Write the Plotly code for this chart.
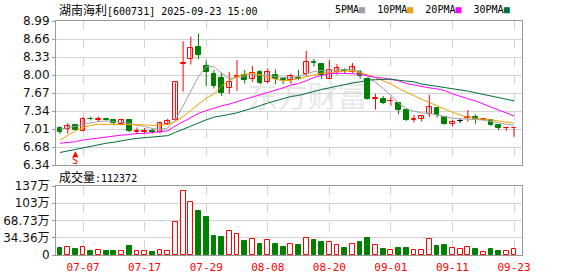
import numpy as np
import plotly.graph_objects as go

# ---------------- data ----------------
dates = ["07-02","07-03","07-04","07-07","07-08","07-09","07-10","07-11","07-14","07-15",
         "07-16","07-17","07-18","07-21","07-22","07-23","07-24","07-25","07-28","07-29",
         "07-30","07-31","08-01","08-04","08-05","08-06","08-07","08-08","08-11","08-12",
         "08-13","08-14","08-15","08-18","08-19","08-20","08-21","08-22","08-25","08-26",
         "08-27","08-28","08-29","09-01","09-02","09-03","09-04","09-05","09-08","09-09",
         "09-10","09-11","09-12","09-15","09-16","09-17","09-18","09-19","09-22","09-23"]

open_ = [7.03,7.00,7.07,6.97,7.19,7.17,7.18,7.16,7.09,7.17,6.95,6.95,6.96,6.94,7.09,7.17,8.19,8.29,8.51,8.17,
         8.02,7.95,7.75,7.96,8.00,7.93,8.06,7.87,8.00,7.92,7.90,7.94,8.01,8.24,8.20,7.92,8.06,8.08,8.06,8.06,
         7.93,7.56,7.55,7.51,7.48,7.36,7.17,7.19,7.28,7.38,7.23,7.09,7.15,7.20,7.22,7.17,7.17,7.08,7.02,7.02]
close = [6.94,7.06,6.98,7.19,7.18,7.18,7.17,7.11,7.17,6.97,6.96,6.96,6.95,7.11,7.15,7.86,8.22,8.49,8.37,8.05,
         7.79,7.66,7.86,7.98,7.90,8.03,7.84,8.05,7.92,7.91,7.97,7.93,8.23,8.21,8.00,8.09,8.12,8.07,8.14,7.97,
         7.55,7.57,7.49,7.52,7.35,7.17,7.18,7.25,7.41,7.26,7.09,7.14,7.15,7.22,7.18,7.18,7.08,7.03,7.03,7.03]
high = [7.05,7.11,7.09,7.22,7.23,7.23,7.19,7.19,7.19,7.18,7.03,7.02,7.01,7.14,7.19,7.86,8.62,8.70,8.76,8.26,
        8.09,8.04,8.05,8.27,8.09,8.16,8.09,8.12,8.10,7.95,8.02,8.09,8.44,8.29,8.21,8.27,8.20,8.12,8.22,8.09,
        7.95,7.65,7.61,7.59,7.49,7.38,7.26,7.26,7.63,7.40,7.24,7.17,7.19,7.35,7.27,7.20,7.18,7.08,7.04,7.04]
low = [6.91,6.92,6.97,6.96,7.16,7.13,7.16,7.07,7.07,6.94,6.92,6.92,6.92,6.92,7.07,7.16,7.69,8.19,8.29,7.79,
       7.75,7.61,7.65,7.70,7.84,7.87,7.83,7.84,7.83,7.83,7.84,7.90,7.98,8.15,7.92,7.92,8.00,8.02,8.03,7.92,
       7.54,7.36,7.46,7.43,7.27,7.15,7.12,7.14,7.23,7.21,7.08,7.05,7.11,7.14,7.10,7.16,7.06,6.98,6.97,6.86]

ma5 = [7.00,7.02,7.05,7.09,7.12,7.14,7.15,7.14,7.13,7.11,7.07,7.05,7.01,7.00,7.02,7.17,7.43,7.71,7.97,8.15,
       8.15,8.03,7.93,7.95,7.98,8.00,8.00,7.99,7.97,7.95,7.95,7.97,8.02,8.06,8.08,8.08,8.09,8.10,8.10,8.06,
       7.97,7.86,7.75,7.62,7.48,7.38,7.33,7.30,7.29,7.26,7.23,7.20,7.19,7.18,7.18,7.17,7.14,7.11,7.09,7.07]
ma10 = [6.80,6.89,6.97,7.03,7.07,7.09,7.09,7.09,7.09,7.09,7.08,7.08,7.07,7.07,7.09,7.14,7.23,7.35,7.46,7.57,
        7.65,7.79,7.89,7.97,8.01,8.03,8.00,7.95,7.92,7.89,7.90,7.93,7.97,8.00,8.03,8.04,8.06,8.07,8.07,8.04,
        8.00,7.95,7.89,7.83,7.75,7.68,7.61,7.55,7.49,7.43,7.36,7.31,7.26,7.22,7.20,7.19,7.17,7.15,7.13,7.11]
ma20 = [6.74,6.75,6.77,6.80,6.82,6.84,6.86,6.87,6.89,6.90,6.92,6.92,6.94,6.95,6.97,7.06,7.14,7.22,7.29,7.34,
        7.39,7.43,7.46,7.51,7.55,7.59,7.63,7.67,7.72,7.76,7.81,7.84,7.89,7.95,7.99,8.02,8.03,8.03,8.02,8.01,
        7.98,7.95,7.94,7.92,7.89,7.84,7.81,7.78,7.76,7.74,7.71,7.65,7.60,7.56,7.52,7.46,7.40,7.35,7.30,7.24]
ma30 = [6.57,6.60,6.63,6.66,6.68,6.71,6.74,6.76,6.79,6.81,6.83,6.84,6.86,6.87,6.88,6.94,7.00,7.06,7.12,7.17,
        7.22,7.24,7.27,7.30,7.34,7.39,7.43,7.48,7.52,7.56,7.60,7.62,7.66,7.70,7.73,7.76,7.79,7.83,7.85,7.87,
        7.90,7.91,7.92,7.92,7.90,7.89,7.87,7.83,7.81,7.78,7.76,7.74,7.72,7.70,7.67,7.64,7.61,7.59,7.56,7.52]

volume_wan = [14.7,16.0,12.7,16.0,8.7,10.0,7.3,8.7,8.0,18.7,8.0,8.0,6.7,10.0,8.7,66.0,128.0,106.0,86.7,76.7,
              38.7,36.7,48.0,42.0,28.7,32.0,22.7,30.0,22.7,16.0,22.7,20.7,34.0,30.7,25.3,25.3,20.7,14.7,22.7,26.7,
              34.7,20.7,12.7,10.0,14.7,14.7,10.0,10.0,32.0,18.7,20.7,14.0,12.0,16.0,12.7,6.7,12.7,8.7,8.7,11.2372]

price_ticks = ["6.34","6.68","7.01","7.34","7.67","8.00","8.33","8.66","8.99"]
vol_tick_vals = [0, 34.36, 68.73, 103.09, 137.45]
vol_tick_text = ["0", "34.36万", "68.73万", "103万", "137万"]
date_ticks = ["07-07","07-17","07-29","08-08","08-20","09-01","09-11","09-23"]
signal_dates = ["07-04"]
signal_text = ["S"]
title_name = "湖南海利"
title_rest = "[600731] 2025-09-23 15:00"
last_volume = "112372"

# ---------------- styles ----------------
RED = "#ff0000"
GREEN = "#008000"
BLACK = "#000000"
MA_COLORS = ["#a0a0a0", "#f0a000", "#ff00ff", "#006f35"]
GRID = "#d4d4d4"
BORDER = "#9a9a9a"
BODY_W = 0.62

n = len(dates)
x = np.arange(n)
o = np.array(open_); c = np.array(close); h = np.array(high); l = np.array(low)
up = c > o
down = c < o
flat = c == o

fig = go.Figure()

# wicks
for mask, col in ((up, RED), (down, GREEN), (flat, BLACK)):
    xs, ys = [], []
    for i in x[mask]:
        xs += [i, i, None]
        ys += [l[i], h[i], None]
    fig.add_trace(go.Scatter(x=xs, y=ys, mode="lines", line=dict(color=col, width=1),
                             hoverinfo="skip", showlegend=False, xaxis="x", yaxis="y"))

# bodies
body_base = np.minimum(o, c)
body_h = np.maximum(np.abs(c - o), 0.004)
for mask, fill, col in ((up, "#ffffff", RED), (down, GREEN, GREEN), (flat, BLACK, BLACK)):
    fig.add_trace(go.Bar(x=x[mask], y=body_h[mask], base=body_base[mask], width=BODY_W,
                         marker=dict(color=fill, line=dict(color=col, width=1)),
                         hoverinfo="skip", showlegend=False, xaxis="x", yaxis="y"))

# moving averages
for ma, col in zip((ma5, ma10, ma20, ma30), MA_COLORS):
    fig.add_trace(go.Scatter(x=x, y=ma, mode="lines", line=dict(color=col, width=1),
                             hoverinfo="skip", showlegend=False, xaxis="x", yaxis="y"))

# volume
v = np.array(volume_wan)
vup = c >= o
fig.add_trace(go.Bar(x=x[vup], y=v[vup], width=BODY_W,
                     marker=dict(color="#ffffff", line=dict(color=RED, width=1)),
                     hoverinfo="skip", showlegend=False, xaxis="x2", yaxis="y2"))
fig.add_trace(go.Bar(x=x[~vup], y=v[~vup], width=BODY_W,
                     marker=dict(color=GREEN, line=dict(color=GREEN, width=1)),
                     hoverinfo="skip", showlegend=False, xaxis="x2", yaxis="y2"))

tick_idx = [dates.index(d) for d in date_ticks]
xrange = [-0.52, n + 0.04]

axis_common = dict(showline=True, mirror=True, linecolor=BORDER, linewidth=1, zeroline=False,
                   automargin=False)
fig.update_layout(
    width=578, height=276,
    margin=dict(l=56, r=56, t=21, b=21, autoexpand=False),
    paper_bgcolor="white", plot_bgcolor="white",
    barmode="overlay", bargap=0, hovermode=False, showlegend=False,
    xaxis=dict(domain=[0, 1], range=xrange, tickvals=tick_idx, showticklabels=False,
               showgrid=True, gridcolor=GRID, griddash="dash", ticks="", anchor="y", **axis_common),
    yaxis=dict(domain=[(255 - 165) / 234, 1], range=[6.34, 8.99],
               tickvals=list(np.linspace(6.34, 8.99, len(price_ticks))), ticktext=price_ticks,
               showgrid=True, gridcolor=GRID, ticks="outside", ticklen=3, tickcolor=BORDER,
               tickfont=dict(family="DejaVu Sans", size=12, color="#111"), anchor="x", **axis_common),
    xaxis2=dict(domain=[0, 1], range=xrange, tickvals=tick_idx, ticktext=date_ticks,
                showgrid=True, gridcolor=GRID, griddash="dash", ticks="", anchor="y2",
                ticklabelstandoff=2,
                tickfont=dict(family="DejaVu Sans Mono", size=11, color=RED), **axis_common),
    yaxis2=dict(domain=[0, (255 - 186) / 234], range=[0, 137.45],
                tickvals=vol_tick_vals, ticktext=vol_tick_text,
                showgrid=True, gridcolor=GRID, ticks="outside", ticklen=3, tickcolor=BORDER,
                tickfont=dict(family="DejaVu Sans, Noto Sans CJK SC", size=12, color="#111"),
                anchor="x2", **axis_common),
)

cjk = "font-family:'Noto Sans CJK SC';font-size:12px"
ann = []
ann.append(dict(xref="paper", yref="paper", x=0.002, y=(255 - 10) / 234, xanchor="left", yanchor="middle",
                text=f"<span style=\"{cjk}\">{title_name}</span>{title_rest}", showarrow=False,
                font=dict(family="DejaVu Sans Mono", size=10, color="#000")))
legend_names = ["5PMA", "10PMA", "20PMA", "30PMA"]
leg = "  ".join(f"{nm}<span style=\"color:{col}\">■</span>" for nm, col in zip(legend_names, MA_COLORS))
ann.append(dict(xref="paper", yref="paper", x=(512 - 56) / 466, y=(255 - 10) / 234, xanchor="right",
                yanchor="middle", text=leg, showarrow=False,
                font=dict(family="DejaVu Sans Mono", size=10, color="#000")))
ann.append(dict(xref="paper", yref="paper", x=0.002, y=(255 - 176.5) / 234, xanchor="left", yanchor="middle",
                text=f"<span style=\"{cjk}\">成交量</span>:{last_volume}", showarrow=False,
                font=dict(family="DejaVu Sans Mono", size=10, color="#000")))
for d, t in zip(signal_dates, signal_text):
    i = dates.index(d)
    ann.append(dict(xref="x", yref="y", x=i, y=6.595, text=t, showarrow=True,
                    arrowhead=2, arrowsize=1, arrowwidth=1.2, arrowcolor=RED, standoff=0,
                    ax=0, ay=9, borderpad=0,
                    font=dict(family="DejaVu Sans Mono", size=10, color=RED)))
fig.update_layout(annotations=ann)

# watermark
fig.add_shape(type="rect", xref="paper", yref="paper", x0=0.33, x1=0.75,
              y0=(255 - 113) / 234, y1=(255 - 85) / 234, line=dict(width=0),
              fillcolor="rgba(0,0,0,0)", layer="below",
              label=dict(text="东方财富", textposition="middle center",
                         font=dict(family="Noto Sans CJK SC", size=30, color="#e8e8e8")))

fig.write_html("out.html")
